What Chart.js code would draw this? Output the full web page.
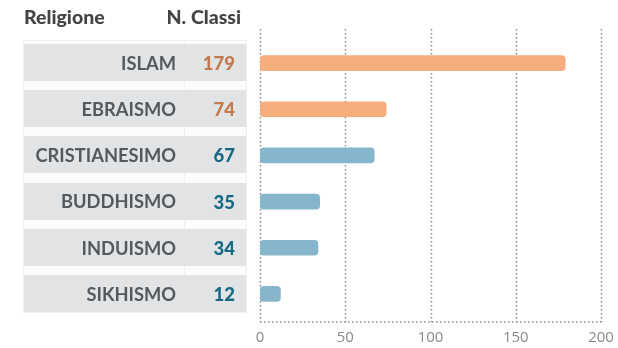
<!DOCTYPE html>
<html>
<head>
<meta charset="utf-8">
<script src="https://cdn.jsdelivr.net/npm/chart.js@4"></script>
<style>
  html, body { margin: 0; padding: 0; background: #ffffff; }
  #wrap { width: 618px; height: 348px; position: relative; }
</style>
</head>
<body>
<div id="wrap"><canvas id="religionChart" width="618" height="348"></canvas></div>
<script>
// Classi per religione
const religions = ['ISLAM', 'EBRAISMO', 'CRISTIANESIMO', 'BUDDHISMO', 'INDUISMO', 'SIKHISMO'];
const classCounts = [179, 74, 67, 35, 34, 12];
const barColors = ['#f6ad7e', '#f6ad7e', '#87b6cc', '#87b6cc', '#87b6cc', '#87b6cc'];
const valueColors = ['#c27a4c', '#c27a4c', '#176a86', '#176a86', '#176a86', '#176a86'];
const xTicks = [0, 50, 100, 150, 200];

const FONT = "Lato, 'Open Sans', sans-serif";

// left-hand table with names and counts + dotted grid
const tablePlugin = {
    id: 'religionTable',
    beforeDatasetsDraw(chart) {
        const ctx = chart.ctx;
        const x = chart.scales.x;
        const y = chart.scales.y;
        const gridTop = 29, gridBottom = 322;

        ctx.save();
        // dotted vertical grid
        ctx.strokeStyle = '#8c8c8c';
        ctx.lineWidth = 1.5;
        ctx.setLineDash([1.5, 2.5]);
        xTicks.forEach(v => {
            const px = Math.round(x.getPixelForValue(v)) + 0.5;
            ctx.beginPath();
            ctx.moveTo(px, gridTop);
            ctx.lineTo(px, gridBottom);
            ctx.stroke();
        });
        ctx.beginPath();
        ctx.moveTo(x.getPixelForValue(0), gridBottom);
        ctx.lineTo(x.getPixelForValue(200), gridBottom);
        ctx.stroke();
        ctx.setLineDash([]);

        // table frame
        const tLeft = 23, tRight = 247, tTop = 40, tBottom = 313, colX = 184;
        ctx.fillStyle = '#fcfcfc';
        ctx.fillRect(tLeft, tTop, tRight - tLeft, tBottom - tTop);
        ctx.strokeStyle = '#efefef';
        ctx.lineWidth = 1;
        ctx.strokeRect(tLeft + 0.5, tTop + 0.5, tRight - tLeft - 1, tBottom - tTop - 1);
        ctx.beginPath();
        ctx.moveTo(colX + 0.5, tTop);
        ctx.lineTo(colX + 0.5, tBottom);
        ctx.stroke();

        // headers
        ctx.fillStyle = '#444444';
        ctx.font = `900 19.5px ${FONT}`;
        ctx.textBaseline = 'alphabetic';
        ctx.textAlign = 'left';
        ctx.fillText('Religione', 24, 24);
        ctx.textAlign = 'right';
        ctx.fillText('N. Classi', 241, 24);

        religions.forEach((name, i) => {
            const cy = y.getPixelForValue(i);
            const top = Math.round(cy - 19);
            const bottom = i === religions.length - 1 ? tBottom - 1 : top + 37;
            ctx.fillStyle = '#e2e3e5';
            ctx.fillRect(tLeft + 1, top, tRight - tLeft - 2, bottom - top);

            ctx.textBaseline = 'middle';
            ctx.textAlign = 'right';
            ctx.fillStyle = '#55595c';
            ctx.font = `700 18.3px ${FONT}`;
            ctx.fillText(name, 176, cy + 1);
            ctx.fillStyle = valueColors[i];
            ctx.font = `900 18.5px ${FONT}`;
            ctx.fillText(String(classCounts[i]), 235, cy + 1);
        });
        ctx.restore();
    }
};

new Chart(document.getElementById('religionChart'), {
    type: 'bar',
    data: {
        labels: religions,
        datasets: [{
            data: classCounts,
            backgroundColor: barColors,
            borderWidth: 0,
            borderRadius: 4,
            borderSkipped: false,
            barThickness: 15
        }]
    },
    options: {
        indexAxis: 'y',
        responsive: false,
        animation: false,
        layout: {
            padding: { left: 260, right: 17, top: 40, bottom: 0 }
        },
        plugins: {
            legend: { display: false },
            tooltip: { enabled: false }
        },
        scales: {
            x: {
                min: 0,
                max: 200,
                afterBuildTicks: axis => {
                    axis.ticks = xTicks.map(v => ({ value: v }));
                },
                afterFit: axis => {
                    // fixed axis band so the plot ends at y=317
                    axis.height = 31;
                    axis.paddingLeft = 0;
                    axis.paddingRight = 0;
                },
                grid: { display: false, drawTicks: false },
                border: { display: false },
                ticks: {
                    padding: 12,
                    maxRotation: 0,
                    minRotation: 0,
                    autoSkip: false,
                    color: '#8a8a8a',
                    font: { family: "'Open Sans', sans-serif", size: 15 }
                }
            },
            y: {
                display: false,
                offset: true,
                grid: { display: false }
            }
        }
    },
    plugins: [tablePlugin]
});
</script>
</body>
</html>
